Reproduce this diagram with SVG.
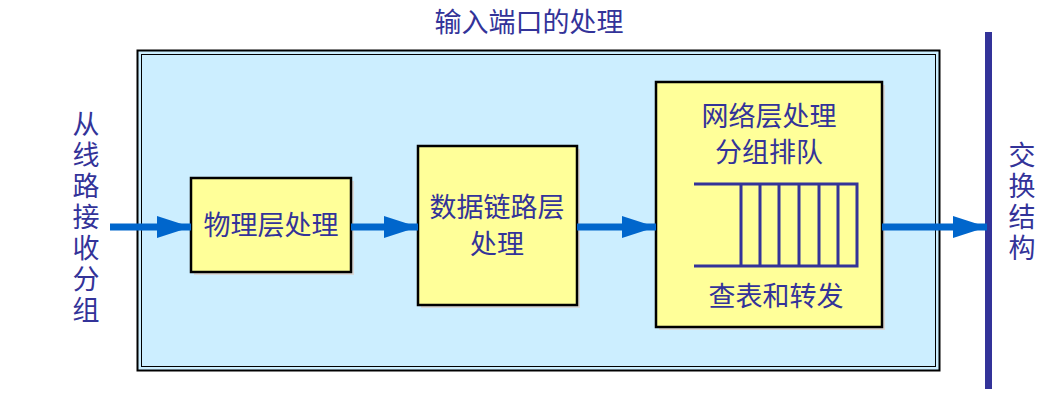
<svg xmlns="http://www.w3.org/2000/svg" width="1063" height="415" viewBox="0 0 1063 415">
<style>
text{font-family:"Noto Sans CJK SC","Liberation Sans",sans-serif;fill:#333399;font-size:27px}
.v{writing-mode:vertical-rl;letter-spacing:4px}
.box{fill:#ffff99;stroke:#000;stroke-width:2.5}
.sh{fill:#d8d8d8}
.c{stroke:#0066cc;stroke-width:7;fill:none;marker-end:url(#a)}
.q{stroke:#333399;stroke-width:3;fill:none}
</style>
<defs><marker id="a" markerUnits="userSpaceOnUse" markerWidth="34" markerHeight="24" refX="34" refY="12" orient="auto"><path d="M0,1 L34,12 L0,23 Z" fill="#0066cc"/></marker></defs>
<text x="529" y="32" text-anchor="middle">输入端口的处理</text>
<g id="frame"><rect x="137.5" y="50.5" width="802" height="320" fill="#cceeff" stroke="#000" stroke-width="2"/><rect x="141.5" y="54.5" width="794" height="312" fill="none" stroke="#000" stroke-width="1"/></g>
<g id="bar"><rect x="985" y="32" width="7" height="357" fill="#333399"/></g>
<g id="left"><text class="v" x="86" y="110">从线路接收分组</text></g>
<g id="right"><text class="v" x="1022" y="141">交换结构</text></g>
<g id="phy"><rect class="sh" x="194" y="181" width="160" height="94"/><rect class="box" x="191" y="178" width="160" height="94"/><text x="271" y="235" text-anchor="middle">物理层处理</text></g>
<g id="dll"><rect class="sh" x="421" y="149" width="159" height="159"/><rect class="box" x="418" y="146" width="159" height="159"/><text x="497" y="217" text-anchor="middle" font-size="26">数据链路层</text><text x="497" y="254" text-anchor="middle" font-size="26">处理</text></g>
<g id="net"><rect class="sh" x="659" y="85" width="226" height="245"/><rect class="box" x="656" y="82" width="226" height="245"/><text x="769" y="126" text-anchor="middle">网络层处理</text><text x="769" y="162" text-anchor="middle">分组排队</text><text x="776" y="306" text-anchor="middle">查表和转发</text>
<path class="q" d="M694,184 H857 V266 H694 M741,184 V266 M760,184 V266 M779,184 V266 M799,184 V266 M819,184 V266 M838,184 V266"/></g>
<g id="connectors"><line class="c" x1="110" y1="227" x2="191" y2="227"/><line class="c" x1="351" y1="227" x2="418" y2="227"/><line class="c" x1="577" y1="227" x2="656" y2="227"/><line class="c" x1="882" y1="227" x2="987" y2="227"/></g>
</svg>
